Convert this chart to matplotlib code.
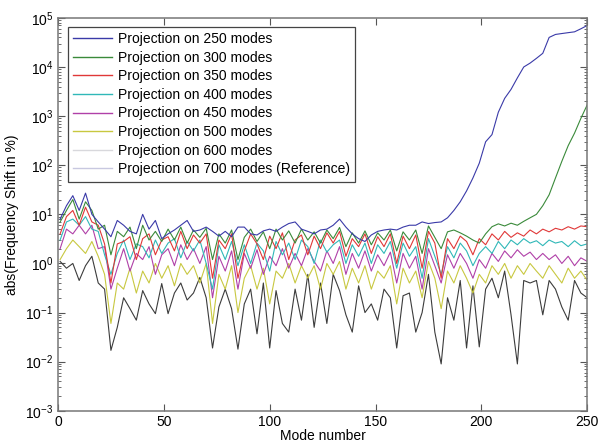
import matplotlib
matplotlib.use("Agg")
import matplotlib.pyplot as plt
from matplotlib.lines import Line2D

plt.rcParams['font.family'] = ['Liberation Sans', 'DejaVu Sans']

# ===== DATA (every 3rd mode) =====
modes = list(range(1, 251, 3))

shift_250 = [8, 15, 24, 12, 27, 10, 7, 5, 3.5, 7.5, 6, 4.5, 4, 10, 5, 7.5, 3.2, 4, 4.8, 6,
             7.5, 4.5, 4.8, 5.5, 4.5, 3.6, 4.5, 3.5, 5.5, 5.5, 4, 3.8, 4.6, 5, 4.5, 5.5, 6.5, 7, 5, 4.5,
             4, 4.8, 5, 6, 8, 5.5, 4, 3.2, 2.8, 3.8, 4.5, 4.8, 5, 4.8, 5.5, 6, 6, 7, 6.5, 6.8,
             7, 8.5, 12, 18, 30, 55, 110, 300, 420, 1200, 2300, 3500, 6000, 10000, 12000, 15000, 19000, 40000, 46000, 48000,
             50000, 52000, 60000, 70000]
shift_300 = [7, 12, 20, 8, 18, 12, 5, 6, 1.5, 4.5, 3.5, 5.5, 2.0, 6.0, 3.0, 4.5, 2.8, 5.0, 3.0, 5.5,
             2.6, 4.8, 3.4, 5.2, 1.2, 4.0, 2.6, 4.8, 1.2, 3.4, 5.0, 2.8, 4.4, 2.0, 5.0, 3.0, 4.6, 2.6, 5.0, 3.0,
             4.4, 2.6, 4.8, 3.2, 5.4, 2.2, 4.2, 2.6, 4.6, 2.4, 4.2, 3.0, 4.8, 1.8, 4.4, 3.0, 4.8, 1.6, 5.8, 3.4,
             2.0, 4.4, 4.8, 4.2, 3.6, 3.0, 2.6, 4.0, 5.6, 6.4, 5.8, 6.6, 6.0, 7.2, 8.5, 10, 15, 25, 55, 120,
             250, 450, 900, 1700]
shift_350 = [4, 9, 12, 6, 14, 7, 6, 2.5, 0.4, 2.5, 2.8, 3.5, 1.2, 3.2, 4.0, 1.5, 3.0, 3.5, 1.8, 4.5,
             2.0, 3.8, 2.6, 4.0, 0.5, 3.0, 2.0, 4.0, 0.5, 1.8, 4.0, 2.5, 1.2, 3.6, 2.0, 4.2, 1.2, 3.0, 3.8, 1.5,
             3.6, 2.0, 4.2, 2.6, 4.5, 1.4, 3.2, 2.2, 4.0, 1.6, 3.5, 2.2, 4.0, 1.0, 3.6, 2.0, 3.8, 0.8, 4.5, 2.6,
             0.5, 3.2, 2.0, 3.6, 2.8, 1.5, 3.2, 2.4, 4.0, 3.0, 4.5, 3.4, 4.2, 3.6, 4.8, 4.0, 5.0, 4.4, 5.2, 4.8,
             5.6, 5.0, 5.8, 5.6]
shift_400 = [3, 7, 8, 6, 9, 5, 4.5, 1.5, 0.6, 1.6, 3.0, 1.2, 2.5, 2.2, 1.3, 3.0, 1.6, 2.6, 3.2, 1.3,
             2.8, 1.8, 3.0, 1.0, 0.3, 2.4, 1.2, 2.8, 0.9, 2.4, 1.0, 2.6, 1.8, 0.7, 2.8, 1.5, 2.6, 1.2, 3.0, 2.2,
             1.0, 3.0, 1.7, 2.4, 3.0, 1.0, 2.4, 1.4, 2.6, 1.0, 2.4, 1.6, 2.8, 0.8, 2.6, 1.4, 2.2, 0.5, 3.2, 1.4,
             0.6, 2.2, 1.3, 2.6, 1.8, 0.9, 1.6, 2.2, 1.6, 2.8, 2.0, 3.0, 2.4, 3.2, 2.6, 2.9, 2.3, 3.0, 2.6, 2.8,
             2.2, 2.9, 2.3, 2.5]
shift_450 = [2, 5, 4, 6, 4, 6, 2, 2.2, 0.3, 0.8, 2.0, 0.7, 1.6, 1.2, 2.2, 0.6, 1.5, 2.0, 0.9, 2.4,
             1.2, 2.0, 1.0, 2.2, 0.2, 1.4, 0.7, 1.8, 0.3, 1.6, 0.8, 1.9, 0.6, 1.4, 0.9, 2.0, 0.8, 1.6, 0.9, 2.0,
             1.1, 0.7, 1.8, 1.0, 2.2, 0.6, 1.6, 0.8, 1.8, 0.7, 1.5, 0.9, 1.7, 0.4, 1.6, 0.8, 1.4, 0.3, 2.0, 0.9,
             0.4, 1.5, 0.8, 1.6, 1.0, 0.5, 1.2, 0.8, 1.6, 1.1, 1.8, 1.3, 1.9, 1.4, 1.7, 1.2, 1.6, 1.2, 1.5, 1.0,
             1.4, 0.9, 1.3, 1.1]
shift_500 = [1.2, 2.0, 3.0, 2.2, 1.6, 2.8, 1.4, 0.6, 0.06, 0.4, 0.3, 0.8, 0.25, 0.7, 0.4, 1.0, 0.5, 0.9, 0.35, 1.0,
             0.6, 0.9, 0.4, 1.0, 0.06, 0.6, 0.3, 0.9, 0.1, 0.5, 0.9, 0.3, 0.8, 0.15, 0.7, 0.5, 1.0, 0.4, 0.9, 0.5,
             0.9, 0.3, 1.0, 0.6, 1.1, 0.3, 0.8, 0.4, 0.9, 0.3, 0.7, 0.5, 0.9, 0.15, 0.8, 0.4, 0.7, 0.2, 1.1, 0.5,
             0.12, 0.7, 0.4, 0.9, 0.5, 0.25, 0.6, 0.4, 0.9, 0.6, 1.0, 0.5, 0.9, 0.6, 1.0, 0.7, 0.5, 0.9, 0.6, 0.4,
             0.8, 0.5, 0.7, 0.45]
shift_600 = [1.1, 0.8, 1.0, 0.45, 0.9, 1.4, 0.4, 0.3, 0.017, 0.05, 0.2, 0.12, 0.07, 0.28, 0.15, 0.095, 0.39, 0.095, 0.25, 0.4,
             0.18, 0.25, 0.52, 0.2, 0.019, 0.13, 0.3, 0.12, 0.018, 0.15, 0.3, 0.037, 0.4, 0.019, 0.28, 0.06, 0.04, 0.3, 0.07, 0.6,
             0.05, 0.4, 0.06, 0.6, 0.28, 0.09, 0.04, 0.35, 0.1, 0.15, 0.07, 0.3, 0.2, 0.019, 0.22, 0.25, 0.04, 0.1, 0.6, 0.04,
             0.009, 0.2, 0.07, 0.45, 0.019, 0.35, 0.02, 0.3, 0.5, 0.2, 0.7, 0.09, 0.009, 0.45, 0.4, 0.45, 0.09, 0.45, 0.3, 0.13,
             0.07, 0.45, 0.25, 0.2]

labels = ["Projection on 250 modes", "Projection on 300 modes", "Projection on 350 modes",
          "Projection on 400 modes", "Projection on 450 modes", "Projection on 500 modes",
          "Projection on 600 modes", "Projection on 700 modes (Reference)"]
series = [shift_250, shift_300, shift_350, shift_400, shift_450, shift_500, shift_600]
colors = ["#3a3aa8", "#3a8a3a", "#e03838", "#30b8b8", "#b040a8", "#c8c840", "#3c3c3c"]
legend_colors = colors[:6] + ["#d8d8dc", "#c8c8e0"]

fig = plt.figure(figsize=(5.98, 4.47), dpi=100)
ax = fig.add_axes([0.097, 0.081, 0.885, 0.879])

# plot from the back (600) to the front (250)
for vals, col in reversed(list(zip(series, colors))):
    ax.plot(modes, vals, color=col, lw=0.8)

ax.set_yscale("log")
ax.set_xlim(0, 250)
ax.set_ylim(1e-3, 1e5)
ax.set_xticks([0, 50, 100, 150, 200, 250])
ax.tick_params(which="both", direction="in", top=True, right=True, labelsize=10, color="#555555")
ax.tick_params(which="major", length=5)
ax.tick_params(which="minor", length=2.5)
ax.tick_params(axis="x", pad=3)
for sp in ax.spines.values():
    sp.set_color("#777777")
    sp.set_linewidth(1.1)

ax.set_xlabel("Mode number", fontsize=10, labelpad=0)
ax.set_ylabel("abs(Frequency Shift in %)", fontsize=10, labelpad=4)

# ===== LEGEND =====
handles = [Line2D([], [], color=c, lw=1.0) for c in legend_colors]
leg = ax.legend(handles, labels, loc="upper left", bbox_to_anchor=(0.018, 0.978),
                fontsize=10, labelspacing=0.33, handlelength=2.8, handletextpad=0.4,
                borderpad=0.4, fancybox=False, framealpha=1, borderaxespad=0)
leg.get_frame().set_edgecolor("#444444")
leg.get_frame().set_linewidth(0.9)

fig.savefig("out.png", dpi=100)
